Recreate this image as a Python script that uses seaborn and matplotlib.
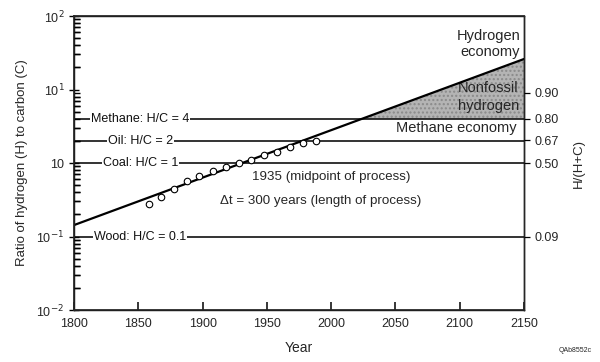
import numpy as np
import pandas as pd
import matplotlib
matplotlib.use("Agg")
import matplotlib.pyplot as plt
import matplotlib.ticker as mticker
import seaborn as sns

# ---- data ----
trend_years = [1800, 2150]
trend_hc = [0.143, 26.0]

obs_years = [1858, 1868, 1878, 1888, 1897, 1908, 1918, 1928, 1938, 1948, 1958, 1968, 1978, 1988]
obs_hc = [0.274, 0.348, 0.439, 0.564, 0.666, 0.778, 0.874, 0.99, 1.10, 1.27, 1.40, 1.67, 1.89, 2.01]

fuel_labels = ["Methane: H/C = 4", "Oil: H/C = 2", "Coal: H/C = 1", "Wood: H/C = 0.1"]
fuel_hc = [4, 2, 1, 0.1]

right_fracs = [0.90, 0.80, 0.67, 0.50, 0.09]
right_labels = ["0.90", "0.80", "0.67", "0.50", "0.09"]

y_ticks = [1e-2, 1e-1, 1, 10, 100]
y_ticklabels = ["10$^{-2}$", "10$^{-1}$", "10", "10$^{1}$", "10$^{2}$"]
x_ticks = [1800, 1850, 1900, 1950, 2000, 2050, 2100, 2150]

sns.set_theme(style="ticks")
plt.rcParams["font.family"] = ["Liberation Sans", "DejaVu Sans"]

fig = plt.figure(figsize=(6, 3.62), dpi=100)
ax = fig.add_axes([74/600, 1-310/362, 450/600, 294/362])
ax.set_axisbelow(False)

ax.set_yscale("log")
ax.set_xlim(1800, 2150)
ax.set_ylim(1e-2, 1e2)

# fuel lines
for lab, v in zip(fuel_labels, fuel_hc):
    ax.axhline(v, color="#111111", lw=1.2, zorder=2)
    ax.text(1851.5, v, lab, ha="center", va="center", fontsize=9, color="#111111",
            bbox=dict(facecolor="white", edgecolor="none", pad=0.6), zorder=3)

# shaded nonfossil hydrogen area
tdf = pd.DataFrame({"year": trend_years, "hc": trend_hc})
xs = np.linspace(trend_years[0], trend_years[1], 400)
ly = np.log10(trend_hc)
ys = 10 ** np.interp(xs, trend_years, ly)
mask = ys >= fuel_hc[0]
ax.fill_between(xs[mask], fuel_hc[0], ys[mask], color="#b4b4b4", hatch="....",
                edgecolor="#8a8a8a", linewidth=0, zorder=1)

sns.lineplot(data=tdf, x="year", y="hc", ax=ax, color="black", lw=1.6, zorder=4)

odf = pd.DataFrame({"year": obs_years, "hc": obs_hc})
sns.scatterplot(data=odf, x="year", y="hc", ax=ax, marker="o", s=22,
                facecolor="white", edgecolor="black", linewidth=0.8, zorder=5)

# annotations
ax.text(2147, 42, "Hydrogen\neconomy", ha="right", va="center", fontsize=10.5, linespacing=1.15)
ax.text(2146, 7.9, "Nonfossil\nhydrogen", ha="right", va="center", fontsize=10.5, linespacing=1.3)
ax.text(2144, 2.99, "Methane economy", ha="right", va="center", fontsize=10.5)
ax.text(2000, 0.645, "1935 (midpoint of process)", ha="center", va="center", fontsize=9.6)
ax.text(1992, 0.304, "\u0394t = 300 years (length of process)", ha="center", va="center", fontsize=9.6)

ax.set_xlabel("Year", fontsize=10, labelpad=8)
ax.set_ylabel("Ratio of hydrogen (H) to carbon (C)", fontsize=9.5, labelpad=6)

ax.set_xticks(x_ticks)
ax.set_xticklabels([str(t) for t in x_ticks], fontsize=9)
ax.set_yticks(y_ticks)
ax.set_yticklabels(y_ticklabels, fontsize=9)
ax.yaxis.set_minor_locator(mticker.LogLocator(base=10, subs=np.arange(2, 10), numticks=20))
ax.yaxis.set_minor_formatter(mticker.NullFormatter())
ax.tick_params(axis="x", direction="in", length=6, width=1.1, pad=6, color="black")
ax.tick_params(axis="y", which="major", direction="inout", length=7, width=1.0, color="black")
ax.tick_params(axis="y", which="minor", direction="in", length=4, width=1.0,
               left=True, color="black")
for s in ax.spines.values():
    s.set_linewidth(1.0)
    s.set_color("black")

# right axis with H/(H+C)
ax2 = ax.twinx()
ax2.set_yscale("log")
ax2.set_ylim(1e-2, 1e2)
ax2.set_axisbelow(False)
ax2.set_yticks([f/(1-f) for f in right_fracs])
ax2.set_yticklabels(right_labels, fontsize=9)
ax2.yaxis.set_minor_locator(mticker.LogLocator(base=10, subs=np.arange(2, 10), numticks=20))
ax2.yaxis.set_minor_formatter(mticker.NullFormatter())
ax2.tick_params(axis="y", which="major", direction="out", length=4, width=0.9, color="black")
ax2.tick_params(axis="y", which="minor", direction="in", length=4, width=1.0,
                left=True, right=False, color="black")
ax2.set_ylabel("H/(H+C)", fontsize=9.5, labelpad=10)
ax2.spines["right"].set_linewidth(1.0)

fig.text(575/600, 1-351/362, "QAb8552c", fontsize=5, ha="center", va="center")

fig.savefig("out.png", dpi=100)
